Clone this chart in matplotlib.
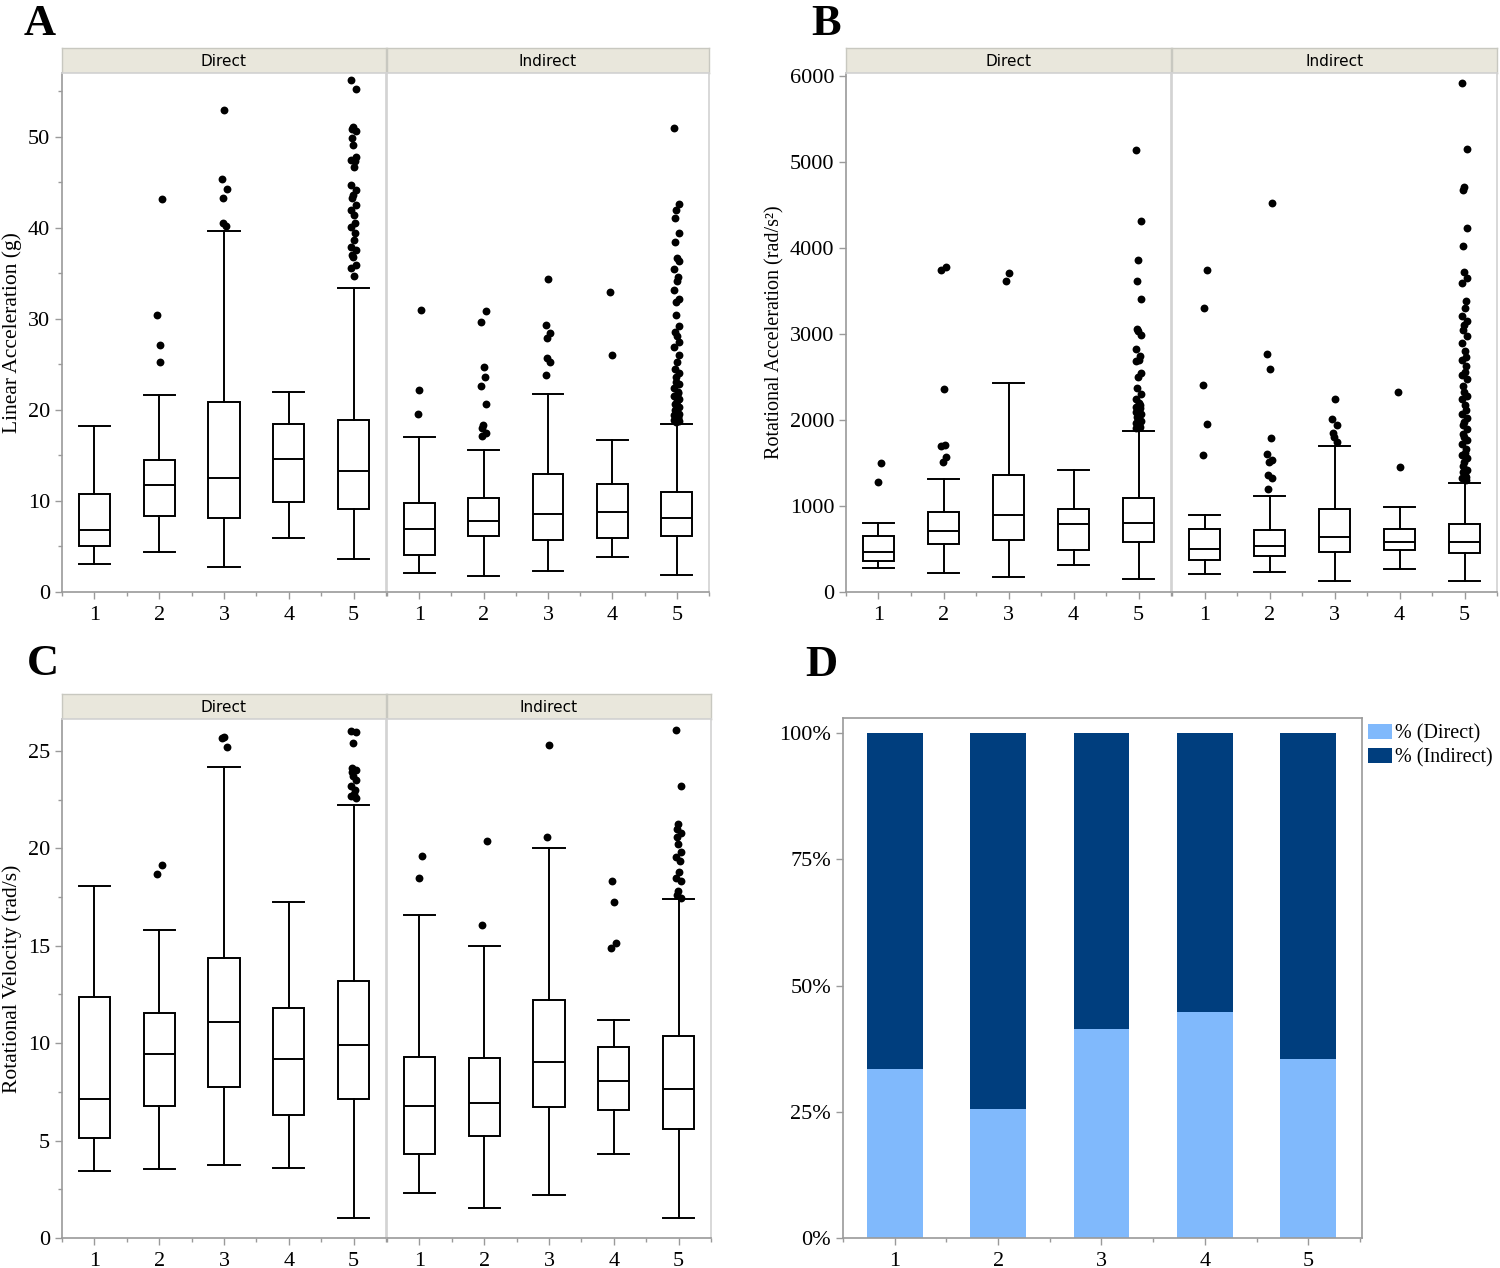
import numpy as np
import matplotlib
matplotlib.use("Agg")
import matplotlib.pyplot as plt
from matplotlib.ticker import PercentFormatter

W, H = 1500, 1268
SERIF = "Liberation Serif"
FRAME_DARK = "#9a9a9a"
FRAME_LIGHT = "#d2d2d2"
HEADER_BG = "#e9e7dc"

groups = [1, 2, 3, 4, 5]
facets = ["Direct", "Indirect"]

# ---- Panel A: linear acceleration (g) ----
lin_dir_lo = [3.1, 4.4, 2.7, 5.9, 3.6]
lin_dir_q1 = [5.1, 8.4, 8.1, 9.9, 9.1]
lin_dir_med = [6.8, 11.7, 12.5, 14.6, 13.3]
lin_dir_q3 = [10.8, 14.5, 20.9, 18.5, 18.9]
lin_dir_hi = [18.2, 21.6, 39.6, 22.0, 33.4]
lin_dir_out = [
    [],
    [43.2, 30.4, 27.1, 25.3],
    [52.9, 45.4, 44.3, 43.3, 40.5, 40.2],
    [],
    [56.2, 55.2, 51.1, 50.8, 50.6, 49.9, 49.1, 47.8, 47.5, 47.3, 46.7, 44.7,
     44.1, 43.6, 43.3, 42.5, 42.0, 41.4, 40.5, 40.1, 39.4, 38.7, 37.9, 37.6,
     37.0, 36.8, 35.9, 35.6, 34.7],
]
lin_ind_lo = [2.1, 1.8, 2.3, 3.8, 1.9]
lin_ind_q1 = [4.1, 6.2, 5.7, 5.9, 6.2]
lin_ind_med = [6.9, 7.8, 8.6, 8.8, 8.1]
lin_ind_q3 = [9.8, 10.3, 13.0, 11.9, 11.0]
lin_ind_hi = [17.0, 15.6, 21.8, 16.7, 18.5]
lin_ind_out = [
    [31.0, 22.2, 19.5],
    [30.9, 29.6, 24.7, 23.6, 22.6, 20.6, 18.3, 18.0, 17.5, 17.1],
    [34.4, 29.3, 28.4, 27.9, 25.7, 25.3, 23.8],
    [33.0, 26.0],
    [51.0, 42.6, 41.9, 41.1, 39.4, 38.4, 36.7, 36.4, 35.5, 34.6, 34.2, 33.2,
     32.2, 31.8, 30.4, 29.2, 28.6, 28.1, 27.5, 26.9, 26.0, 25.3, 24.5, 24.0,
     23.6, 23.1, 22.8, 22.4, 22.0, 21.9, 21.5, 21.2, 21.0, 20.7, 20.3, 20.0,
     19.8, 19.6, 19.4, 19.2, 19.1, 18.9, 18.8, 18.7],
]

# ---- Panel B: rotational acceleration (rad/s^2) ----
rot_dir_lo = [275, 226, 174, 316, 151]
rot_dir_q1 = [362, 558, 605, 488, 587]
rot_dir_med = [470, 709, 898, 786, 802]
rot_dir_q3 = [655, 936, 1360, 965, 1095]
rot_dir_hi = [808, 1314, 2430, 1419, 1875]
rot_dir_out = [
    [1500, 1275],
    [3783, 3744, 2360, 1711, 1698, 1573, 1512],
    [3714, 3620],
    [],
    [5144, 4314, 3860, 3620, 3407, 3058, 3030, 2988, 2831, 2744, 2698, 2690,
     2546, 2500, 2372, 2298, 2244, 2198, 2180, 2155, 2140, 2116, 2090, 2070,
     2040, 2005, 1985, 1965, 1940, 1919, 1905],
]
rot_ind_lo = [213, 238, 131, 267, 131]
rot_ind_q1 = [377, 423, 465, 488, 453]
rot_ind_med = [500, 535, 635, 581, 583]
rot_ind_q3 = [733, 721, 965, 738, 791]
rot_ind_hi = [895, 1116, 1698, 988, 1272]
rot_ind_out = [
    [3749, 3305, 2407, 1953, 1593],
    [4523, 2767, 2593, 1791, 1605, 1540, 1512, 1360, 1326, 1198],
    [2250, 2017, 1942, 1853, 1802, 1744],
    [2331, 1457],
    [5919, 5151, 4705, 4672, 4233, 4028, 3721, 3650, 3598, 3384, 3297, 3209,
     3150, 3105, 3050, 2977, 2900, 2802, 2736, 2700, 2628, 2564, 2520, 2477,
     2400, 2328, 2280, 2244, 2180, 2116, 2070, 2026, 1980, 1942, 1900, 1837,
     1800, 1767, 1720, 1663, 1620, 1595, 1560, 1512, 1470, 1423, 1390, 1360,
     1340, 1320, 1300],
]

# ---- Panel C: rotational velocity (rad/s) ----
vel_dir_lo = [3.45, 3.55, 3.75, 3.6, 1.03]
vel_dir_q1 = [5.15, 6.8, 7.75, 6.3, 7.15]
vel_dir_med = [7.15, 9.45, 11.1, 9.2, 9.9]
vel_dir_q3 = [12.35, 11.55, 14.35, 11.8, 13.2]
vel_dir_hi = [18.05, 15.8, 24.2, 17.25, 22.25]
vel_dir_out = [
    [],
    [19.15, 18.7],
    [25.7, 25.65, 25.2],
    [],
    [26.0, 25.95, 25.4, 24.1, 24.0, 23.9, 23.7, 23.5, 23.2, 23.0, 22.8, 22.7, 22.6],
]
vel_ind_lo = [2.3, 1.55, 2.2, 4.3, 1.05]
vel_ind_q1 = [4.3, 5.25, 6.7, 6.55, 5.6]
vel_ind_med = [6.8, 6.95, 9.05, 8.05, 7.65]
vel_ind_q3 = [9.3, 9.25, 12.2, 9.8, 10.35]
vel_ind_hi = [16.6, 15.0, 20.0, 11.2, 17.4]
vel_ind_out = [
    [19.6, 18.5],
    [20.4, 16.05],
    [25.3, 20.6],
    [18.3, 17.25, 15.15, 14.9],
    [26.1, 23.2, 21.25, 21.0, 20.8, 20.6, 20.2, 19.8, 19.55, 19.35, 18.8,
     18.5, 18.3, 17.8, 17.6, 17.45],
]

# ---- Panel D: share of direct / indirect per group (%) ----
pct_direct = [33.5, 25.5, 41.4, 44.8, 35.4]
pct_indirect = [66.5, 74.5, 58.6, 55.2, 64.6]
color_direct = "#80b9fc"
color_indirect = "#003e7e"


def px_axes(fig, x0, y0, x1, y1, **kw):
    return fig.add_axes([x0 / W, 1 - y1 / H, (x1 - x0) / W, (y1 - y0) / H], **kw)


def style_frame(ax, left_dark=True):
    ax.spines["bottom"].set_color(FRAME_DARK)
    ax.spines["left"].set_color(FRAME_DARK if left_dark else FRAME_LIGHT)
    ax.spines["top"].set_color(FRAME_LIGHT)
    ax.spines["right"].set_color(FRAME_LIGHT)
    for s in ax.spines.values():
        s.set_linewidth(1.2)
    ax.tick_params(which="both", direction="out", color=FRAME_DARK,
                   labelsize=16, width=1.0)
    ax.tick_params(which="major", length=5)
    ax.tick_params(which="minor", length=3)
    for lab in ax.get_xticklabels() + ax.get_yticklabels():
        lab.set_fontfamily(SERIF)


def header(fig, x0, x1, y0, y1, text):
    hx = px_axes(fig, x0, y0, x1, y1)
    hx.set_facecolor(HEADER_BG)
    hx.set_xticks([])
    hx.set_yticks([])
    for s in hx.spines.values():
        s.set_color("#c8c8c0")
        s.set_linewidth(1.0)
    hx.text(0.5, 0.45, text, ha="center", va="center", fontsize=11,
            family="DejaVu Sans", transform=hx.transAxes)


def draw_facet(ax, lo, q1, med, q3, hi, out, ylim, yticks, yminor, show_y):
    stats = [dict(whislo=a, q1=b, med=c, q3=d, whishi=e, fliers=[])
             for a, b, c, d, e in zip(lo, q1, med, q3, hi)]
    line = dict(color="black", linewidth=1.4)
    ax.bxp(stats, positions=groups, widths=0.48, capwidths=0.48,
           showfliers=False, patch_artist=True, manage_ticks=False,
           boxprops=dict(facecolor="white", edgecolor="black", linewidth=1.4),
           medianprops=line, whiskerprops=line, capprops=line)
    for g, pts in zip(groups, out):
        pts = np.asarray(pts, dtype=float)
        if len(pts):
            # small fixed horizontal spread, like the original's jitter
            jit = 0.04 * np.sin(2.3 * np.arange(len(pts)) + g)
            ax.scatter(g + jit, pts, s=32, color="black", linewidths=0, zorder=3)
    ax.set_xlim(0.5, 5.5)
    ax.set_ylim(*ylim)
    ax.set_xticks(groups)
    ax.set_xticks(np.arange(0.5, 6.0, 1.0), minor=True)
    ax.set_yticks(yticks)
    if yminor is not None:
        ax.set_yticks(yminor, minor=True)
    ax.set_xticklabels([str(g) for g in groups])
    style_frame(ax, left_dark=show_y)
    ax.tick_params(axis="x", pad=5)
    if not show_y:
        ax.tick_params(axis="y", which="both", left=False, labelleft=False)


def box_panel(fig, xs, y0, y1, data, ylim, yticks, yminor, ylabel, label_x, label_size):
    axes = []
    for i, (fx0, fx1) in enumerate(xs):
        header(fig, fx0, fx1, y0 - 25, y0, facets[i])
        ax = px_axes(fig, fx0, y0, fx1, y1)
        draw_facet(ax, *data[i], ylim, yticks, yminor, show_y=(i == 0))
        axes.append(ax)
    fig.text(label_x / W, 1 - (y0 + y1) / 2 / H, ylabel, rotation=90,
             ha="center", va="center", fontsize=label_size, family=SERIF)
    return axes


fig = plt.figure(figsize=(W / 100, H / 100), dpi=100)

# Panel A
box_panel(fig, [(62, 386), (387, 709)], 73, 592,
          [(lin_dir_lo, lin_dir_q1, lin_dir_med, lin_dir_q3, lin_dir_hi, lin_dir_out),
           (lin_ind_lo, lin_ind_q1, lin_ind_med, lin_ind_q3, lin_ind_hi, lin_ind_out)],
          (0, 57.0), np.arange(0, 51, 10), np.arange(5, 57, 10),
          "Linear Acceleration (g)", 12, 15.5)

# Panel B
box_panel(fig, [(846, 1171), (1172, 1497)], 73, 592,
          [(rot_dir_lo, rot_dir_q1, rot_dir_med, rot_dir_q3, rot_dir_hi, rot_dir_out),
           (rot_ind_lo, rot_ind_q1, rot_ind_med, rot_ind_q3, rot_ind_hi, rot_ind_out)],
          (0, 6035), np.arange(0, 6001, 1000), None,
          "Rotational Acceleration (rad/s²)", 775, 14.5)

# Panel C
box_panel(fig, [(62, 386), (387, 711)], 719, 1238,
          [(vel_dir_lo, vel_dir_q1, vel_dir_med, vel_dir_q3, vel_dir_hi, vel_dir_out),
           (vel_ind_lo, vel_ind_q1, vel_ind_med, vel_ind_q3, vel_ind_hi, vel_ind_out)],
          (0, 26.64), np.arange(0, 26, 5), np.arange(2.5, 26.6, 5),
          "Rotational Velocity (rad/s)", 12, 15.5)

# Panel D
axd = px_axes(fig, 843, 718, 1362, 1238)
axd.bar(groups, pct_direct, width=0.54, color=color_direct, label="% (Direct)")
axd.bar(groups, pct_indirect, width=0.54, bottom=pct_direct,
        color=color_indirect, label="% (Indirect)")
axd.set_xlim(0.52, 5.52)
axd.set_ylim(0, 103)
axd.set_xticks(groups)
axd.set_xticks(np.arange(0.5, 6.0, 1.0), minor=True)
axd.set_yticks([0, 25, 50, 75, 100])
axd.yaxis.set_major_formatter(PercentFormatter(decimals=0))
style_frame(axd)
axd.spines["top"].set_color(FRAME_DARK)
axd.spines["right"].set_color(FRAME_DARK)
axd.tick_params(axis="x", pad=5)
leg = axd.legend(loc="upper left", bbox_to_anchor=(1.0, 1.0), frameon=False,
                 prop=dict(family=SERIF, size=14.5), handlelength=1.2,
                 handleheight=0.8, handletextpad=0.15, labelspacing=0.2,
                 borderaxespad=0.15, borderpad=0.15)

# Panel letters
for letter, x, y in [("A", 24, 35), ("B", 811, 35), ("C", 27, 675), ("D", 805, 676)]:
    fig.text(x / W, 1 - y / H, letter, fontsize=32, fontweight="bold",
             family=SERIF, ha="left", va="baseline")

fig.savefig("out.png", dpi=100)
